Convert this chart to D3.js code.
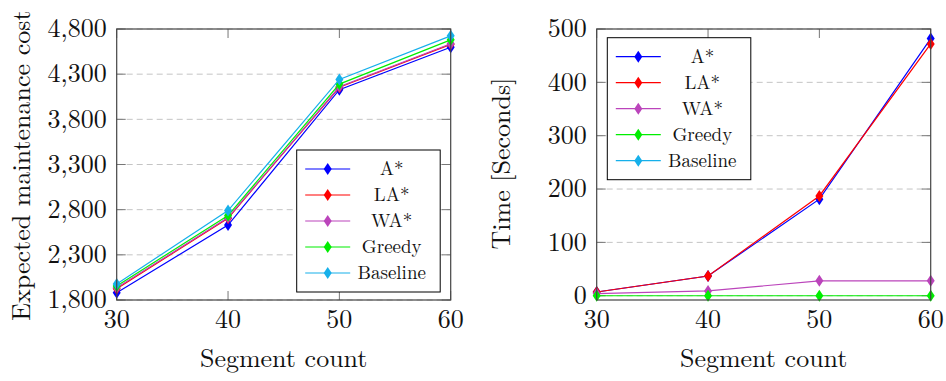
<!DOCTYPE html>
<html>
<head>
<meta charset="utf-8">
<script src="https://cdn.jsdelivr.net/npm/d3@7"></script>
<style>
  body { margin: 0; background: #fff; }
</style>
</head>
<body>
<div class="chart"></div>
<script>
// x values shared by both panels
var segments = [30, 40, 50, 60];
var seriesNames = ["A*", "LA*", "WA*", "Greedy", "Baseline"];
var seriesColors = ["#0000ff", "#ff0000", "#bb44bb", "#00ee00", "#16b0ea"];

// left panel: expected maintenance cost
var costAStar    = [1880, 2630, 4128, 4598];
var costLAStar   = [1925, 2705, 4155, 4630];
var costWAStar   = [1935, 2712, 4160, 4636];
var costGreedy   = [1955, 2735, 4190, 4680];
var costBaseline = [1978, 2790, 4242, 4724];
var costTicks = [1800, 2300, 2800, 3300, 3800, 4300, 4800];

// right panel: run time in seconds (baseline has no timing)
var timeAStar    = [7, 37, 181, 482];
var timeLAStar   = [7, 37, 187, 472];
var timeWAStar   = [4, 9, 28, 28];
var timeGreedy   = [0, 0, 0, 0];
var timeBaseline = [];
var timeTicks = [0, 100, 200, 300, 400, 500];

var serif = "Latin Modern Roman";

var svg = d3.select(".chart").append("svg")
    .attr("width", 946).attr("height", 381)
    .attr("font-family", serif);

function drawPanel(p) {
    var x = d3.scaleLinear().domain([30, 60]).range([p.left, p.right]);
    var y = d3.scaleLinear().domain(p.yDomain).range([p.bottom, p.top]);
    var g = svg.append("g");

    // dashed horizontal grid
    g.selectAll(".grid").data(p.yTicks).enter().append("line")
        .attr("x1", p.left).attr("x2", p.right)
        .attr("y1", function(d){ return y(d); }).attr("y2", function(d){ return y(d); })
        .attr("stroke", "#c4c4c4").attr("stroke-width", 1).attr("stroke-dasharray", "6,4");

    // inward ticks on all four sides
    var tl = 9;
    g.selectAll(".xtb").data(segments).enter().append("line")
        .attr("x1", function(d){ return x(d); }).attr("x2", function(d){ return x(d); })
        .attr("y1", p.bottom).attr("y2", p.bottom - tl)
        .attr("stroke", "#777").attr("stroke-width", 1);
    g.selectAll(".xtt").data(segments).enter().append("line")
        .attr("x1", function(d){ return x(d); }).attr("x2", function(d){ return x(d); })
        .attr("y1", p.top).attr("y2", p.top + tl)
        .attr("stroke", "#777").attr("stroke-width", 1);
    g.selectAll(".ytl").data(p.yTicks).enter().append("line")
        .attr("x1", p.left).attr("x2", p.left + tl)
        .attr("y1", function(d){ return y(d); }).attr("y2", function(d){ return y(d); })
        .attr("stroke", "#777").attr("stroke-width", 1);
    g.selectAll(".ytr").data(p.yTicks).enter().append("line")
        .attr("x1", p.right).attr("x2", p.right - tl)
        .attr("y1", function(d){ return y(d); }).attr("y2", function(d){ return y(d); })
        .attr("stroke", "#777").attr("stroke-width", 1);

    // tick labels
    g.selectAll(".xl").data(segments).enter().append("text")
        .attr("x", function(d){ return x(d); }).attr("y", p.bottom + 28)
        .attr("text-anchor", "middle").attr("font-family", serif).attr("font-size", 26)
        .attr("fill", "#111").text(function(d){ return d; });
    g.selectAll(".yl").data(p.yTicks).enter().append("text")
        .attr("x", p.left - 10).attr("y", function(d){ return y(d); })
        .attr("dy", "0.32em").attr("text-anchor", "end")
        .attr("font-family", serif).attr("font-size", 26)
        .attr("fill", "#111").text(function(d){ return p.fmt(d); });

    // axis titles
    g.append("text").attr("x", (p.left + p.right) / 2).attr("y", 367)
        .attr("text-anchor", "middle").attr("font-family", serif).attr("font-size", 26)
        .attr("fill", "#111").text("Segment count");
    g.append("text")
        .attr("transform", "translate(" + p.titleX + "," + p.titleY + ") rotate(-90)")
        .attr("text-anchor", "middle").attr("font-family", serif).attr("font-size", 26)
        .attr("fill", "#111").text(p.yTitle);

    // series
    var line = d3.line()
        .x(function(d, i){ return x(segments[i]); })
        .y(function(d){ return y(d); });
    var diamond = "M0,-6L4,0L0,6L-4,0Z";
    p.series.forEach(function(vals, k) {
        var s = g.append("g");
        s.append("path").datum(vals).attr("d", line)
            .attr("fill", "none").attr("stroke", seriesColors[k]).attr("stroke-width", 1.2);
        s.selectAll("path.m").data(vals).enter().append("path").attr("class", "m")
            .attr("d", diamond)
            .attr("transform", function(d, i){ return "translate(" + x(segments[i]) + "," + y(d) + ")"; })
            .attr("fill", seriesColors[k]);
    });

    // frame
    g.append("rect").attr("x", p.left).attr("y", p.top)
        .attr("width", p.right - p.left).attr("height", p.bottom - p.top)
        .attr("fill", "none").attr("stroke", "#444").attr("stroke-width", 1.2);

    // legend
    var lg = g.append("g").attr("transform", "translate(" + p.legendX + "," + p.legendY + ")");
    lg.append("rect").attr("width", 143.5).attr("height", 142)
        .attr("fill", "#fff").attr("stroke", "#000").attr("stroke-width", 1);
    seriesNames.forEach(function(name, k) {
        var ry = 19 + k * 26;
        lg.append("line").attr("x1", 8.5).attr("x2", 53.5).attr("y1", ry).attr("y2", ry)
            .attr("stroke", seriesColors[k]).attr("stroke-width", 1.2);
        lg.append("path").attr("d", diamond).attr("transform", "translate(31," + ry + ")")
            .attr("fill", seriesColors[k]);
        lg.append("text").attr("x", 95).attr("y", ry).attr("dy", "0.33em")
            .attr("text-anchor", "middle").attr("font-family", serif).attr("font-size", 19)
            .attr("fill", "#111").text(name);
    });
}

drawPanel({
    left: 116.7, right: 450.7, top: 29, bottom: 300,
    yDomain: [1800, 4800], yTicks: costTicks, fmt: d3.format(","),
    yTitle: "Expected maintenance cost", titleX: 30, titleY: 165.5,
    series: [costAStar, costLAStar, costWAStar, costGreedy, costBaseline],
    legendX: 296.7, legendY: 150
});
drawPanel({
    left: 596.7, right: 930.7, top: 29, bottom: 300,
    yDomain: [-8, 500], yTicks: timeTicks, fmt: d3.format("d"),
    yTitle: "Time [Seconds]", titleX: 510, titleY: 163.5,
    series: [timeAStar, timeLAStar, timeWAStar, timeGreedy, timeBaseline],
    legendX: 607.3, legendY: 37.7
});
</script>
</body>
</html>
